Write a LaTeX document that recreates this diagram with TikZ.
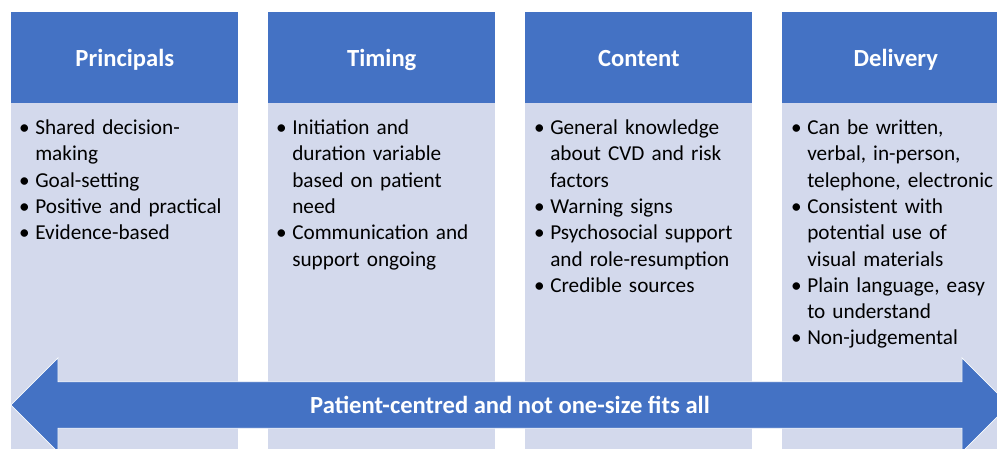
\documentclass[tikz,border=0pt]{standalone}
\usepackage{fontspec}
\setmainfont{Carlito}
\usetikzlibrary{shapes.arrows}
\definecolor{accent}{HTML}{4472C4}
\definecolor{panel}{HTML}{D3D9EC}
% one bullet point, the dot hanging left of the text
\newcommand{\pnt}{\par\noindent\llap{\textbullet\hskip 4pt}}
\begin{document}
\begin{tikzpicture}[x=0.025cm, y=-0.025cm,
  head/.style={fill=accent, minimum width=5.675cm, minimum height=2.275cm, inner sep=0pt, anchor=north west, text=white,
    text height=14pt, text depth=2pt, font=\fontsize{17.5}{21}\selectfont\bfseries},
  panelbox/.style={fill=panel, minimum width=5.675cm, minimum height=8.75cm, inner sep=0pt, anchor=north west},
  points/.style={anchor=north west, inner sep=0pt, text width=5.5cm, align=left, font=\fontsize{15.1}{18.7}\selectfont}]
  \useasboundingbox (0,0) rectangle (997,448);
  %\draw [help lines] (0,0) grid (997,448);
  \node[panelbox] (panA) at (11,103) {};
  \node[panelbox] (panB) at (268,103) {};
  \node[panelbox] (panC) at (525,103) {};
  \node[panelbox] (panD) at (782,103) {};
  \node[head] (hdrA) at (11,12) {Principals};
  \node[head] (hdrB) at (268,12) {Timing};
  \node[head] (hdrC) at (525,12) {Content};
  \node[head] (hdrD) at (782,12) {Delivery};
  \node[points] (ptsA) at (35,108) {\pnt Shared decision-\newline making
    \pnt Goal-setting
    \pnt Positive and practical
    \pnt Evidence-based};
  \node[points] (ptsB) at (292,108) {\pnt Initiation and\newline duration variable\newline based on patient\newline need
    \pnt Communication and\newline support ongoing};
  \node[points] (ptsC) at (550,108) {\pnt General knowledge\newline about CVD and risk\newline factors
    \pnt Warning signs
    \pnt Psychosocial support\newline and role-resumption
    \pnt Credible sources};
  \node[points] (ptsD) at (807,108) {\pnt Can be written,\newline verbal, in-person,\newline telephone, electronic
    \pnt Consistent with\newline potential use of\newline visual materials
    \pnt Plain language, easy\newline to understand
    \pnt Non-judgemental};
  % the band running under all four columns
  \node[double arrow, fill=accent, draw=white, line width=0.5pt, double arrow head extend=17pt,
    minimum height=24.95cm, inner xsep=0pt, inner ysep=8.3pt, text height=13.7pt, text depth=2.3pt,
    text=white, font=\fontsize{17.5}{21}\selectfont\bfseries] (band) at (510,405) {Patient-centred and not one-size fits all};
\end{tikzpicture}
\end{document}
